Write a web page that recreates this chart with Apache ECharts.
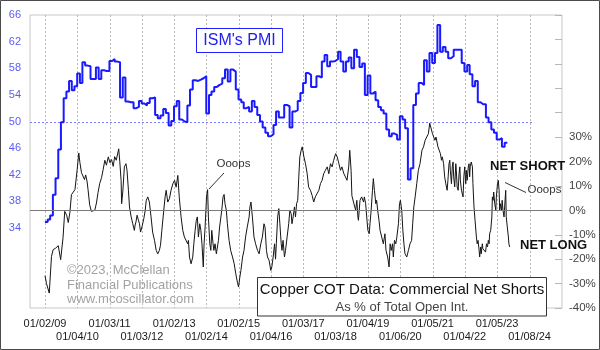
<!DOCTYPE html>
<html>
<head>
<meta charset="utf-8">
<script src="https://cdn.jsdelivr.net/npm/echarts@6/dist/echarts.min.js"></script>
<style>
html, body { margin: 0; padding: 0; background: #fff; }
#chart { width: 600px; height: 350px; }
</style>
</head>
<body>
<div id="chart"></div>
<script>
// ISM manufacturing PMI, one value per month starting January 2009
const pmiStartYear = 2009;
const pmiValues = [
  34.9, 35.3, 35.9, 39.0, 41.5, 45.8, 49.9, 53.5, 54.5, 56.1, 54.7, 55.3,
  57.2, 55.8, 58.9, 58.4, 58.3, 56.4, 56.4, 58.1, 56.4, 57.7, 57.6, 57.6,
  59.1, 59.4, 59.0, 58.9, 53.6, 56.6, 53.0, 52.9, 52.9, 52.0, 52.2, 53.1,
  52.7, 52.4, 52.8, 53.5, 53.6, 51.0, 50.5, 50.9, 51.9, 51.3, 49.4, 50.1,
  52.3, 53.1, 50.3, 50.0, 49.9, 52.4, 54.8, 56.2, 56.1, 56.3, 56.5, 56.8,
  51.2, 54.0, 54.5, 55.2, 55.5, 55.7, 56.5, 57.8, 56.0, 57.8, 57.5, 54.8,
  53.3, 52.9, 52.0, 52.2, 51.5, 53.1, 52.2, 51.0, 50.0, 49.1, 48.3, 47.8,
  48.1, 49.5, 51.5, 50.6, 50.6, 52.5, 52.3, 49.1, 51.5, 51.7, 53.1, 54.3,
  55.8, 57.3, 57.0, 55.2, 55.2, 56.8, 56.6, 59.0, 60.0, 58.3, 59.0, 59.1,
  59.4, 60.5, 59.0, 57.5, 59.0, 59.6, 58.0, 60.8, 59.7, 58.2, 58.7, 54.0,
  56.9, 54.2, 54.5, 53.2, 52.2, 51.7, 51.2, 48.8, 47.8, 48.2, 48.0, 47.3,
  50.8, 50.3, 49.0, 41.3, 43.0, 52.5, 54.2, 55.8, 55.5, 59.2, 57.5, 60.3,
  58.8, 60.3, 64.5, 60.5, 61.2, 60.5, 59.5, 59.8, 60.8, 60.8, 60.8, 58.8,
  57.5, 58.5, 57.1, 55.3, 56.1, 52.9, 52.6, 52.6, 50.6, 49.9, 48.8, 48.3,
  47.3, 47.5, 46.2, 46.8, 46.9
];

// Copper COT: commercial net shorts as % of total open interest (turning points)
const cotDates = [
  '2009-01-02','2009-01-19','2009-02-19','2009-03-16','2009-04-04','2009-05-01','2009-06-01','2009-06-19','2009-06-28','2009-07-25',
  '2009-08-13','2009-09-04','2009-09-22','2009-10-10','2009-10-28','2009-12-07',
  '2010-01-01','2010-01-19','2010-02-01','2010-02-19','2010-03-07','2010-03-25','2010-04-07','2010-04-22','2010-05-04','2010-05-22',
  '2010-06-10','2010-07-01','2010-07-19','2010-08-07','2010-08-25','2010-09-13','2010-10-04','2010-10-22','2010-11-10','2010-11-28','2010-12-19',
  '2011-01-07','2011-01-25','2011-02-13','2011-03-01','2011-03-19','2011-04-16','2011-04-28','2011-05-13','2011-05-19','2011-06-01',
  '2011-06-19','2011-07-07','2011-07-19','2011-08-04','2011-08-16','2011-09-04','2011-09-22','2011-10-10','2011-10-19','2011-10-28',
  '2011-11-10','2011-11-25','2011-12-07','2011-12-19',
  '2012-01-04','2012-01-25','2012-02-10','2012-02-22','2012-03-10','2012-03-28','2012-04-16','2012-05-04','2012-05-25','2012-06-13',
  '2012-07-01','2012-07-19','2012-08-01','2012-08-16','2012-09-07','2012-09-22','2012-10-04','2012-10-22','2012-11-10','2012-11-28','2012-12-19',
  '2013-01-07','2013-01-25','2013-02-13','2013-03-01','2013-03-22','2013-04-10','2013-04-28','2013-05-16','2013-06-04','2013-06-13',
  '2013-06-25','2013-07-13','2013-08-01','2013-08-13','2013-08-28','2013-09-10','2013-09-22','2013-10-04','2013-10-19','2013-11-01',
  '2013-11-13','2013-11-28','2013-12-07','2013-12-19',
  '2014-01-04','2014-01-16','2014-01-25','2014-02-10','2014-02-22','2014-03-04','2014-03-19','2014-03-28','2014-04-10','2014-04-25',
  '2014-05-19','2014-06-01','2014-06-25','2014-07-10','2014-07-22','2014-08-01','2014-08-16','2014-08-28','2014-09-16','2014-10-04',
  '2014-10-25','2014-11-13','2014-12-01','2014-12-19',
  '2015-01-01','2015-01-16','2015-01-28','2015-02-16','2015-03-04','2015-03-22','2015-04-10','2015-05-01','2015-05-10','2015-05-22',
  '2015-06-07','2015-06-25','2015-07-13','2015-08-04','2015-08-22','2015-09-10','2015-09-28','2015-10-16','2015-10-28','2015-11-13',
  '2015-11-25','2015-12-13',
  '2016-01-01','2016-01-13','2016-01-28','2016-02-13','2016-02-24','2016-03-04','2016-03-19','2016-04-01','2016-04-13','2016-04-28',
  '2016-05-07','2016-05-19','2016-06-04','2016-06-16','2016-07-04','2016-07-22','2016-08-04','2016-08-19','2016-08-28','2016-09-10',
  '2016-09-25','2016-10-07','2016-10-19','2016-11-01','2016-11-13','2016-11-25','2016-12-10','2016-12-22',
  '2017-01-10','2017-01-28','2017-02-16','2017-03-04','2017-03-25','2017-04-13','2017-05-01','2017-05-19','2017-06-07','2017-06-28',
  '2017-07-16','2017-08-04','2017-08-22','2017-09-10','2017-10-01','2017-10-19','2017-11-07','2017-11-25','2017-12-13',
  '2018-01-04','2018-01-22','2018-02-10','2018-02-28','2018-03-16','2018-04-07','2018-04-25','2018-05-13','2018-06-01','2018-06-13',
  '2018-06-28','2018-07-07','2018-07-28','2018-08-19','2018-09-01','2018-09-13','2018-09-19','2018-10-07','2018-10-25','2018-11-16',
  '2018-11-25','2018-12-10','2018-12-22',
  '2019-01-04','2019-01-19','2019-01-28','2019-02-10','2019-02-25','2019-03-07','2019-03-19','2019-04-04','2019-04-13','2019-04-25',
  '2019-05-10','2019-05-22','2019-06-10','2019-06-28','2019-07-16','2019-07-28','2019-08-16','2019-09-01','2019-09-13','2019-09-25',
  '2019-10-10','2019-10-19','2019-11-01','2019-11-16','2019-11-28','2019-12-16','2019-12-28',
  '2020-01-07','2020-01-22','2020-02-04','2020-02-16','2020-02-28','2020-03-19','2020-04-07','2020-04-25','2020-05-13','2020-05-25',
  '2020-06-07','2020-06-22','2020-07-10','2020-07-28','2020-08-16','2020-09-07','2020-09-25','2020-10-13','2020-11-01','2020-11-19','2020-12-04',
  '2021-01-04','2021-02-01','2021-02-13','2021-03-07','2021-04-04','2021-04-16','2021-04-25','2021-05-10','2021-05-22','2021-06-04',
  '2021-06-19','2021-06-28','2021-07-10','2021-07-19','2021-07-25','2021-08-07','2021-08-16','2021-08-25','2021-09-01','2021-09-13',
  '2021-09-25','2021-10-01','2021-10-10','2021-10-22','2021-11-01','2021-11-10','2021-11-16','2021-11-28','2021-12-16','2021-12-25',
  '2022-01-04','2022-01-16','2022-01-22','2022-02-01','2022-02-13','2022-02-22','2022-03-01','2022-03-07','2022-03-19','2022-04-01',
  '2022-04-07','2022-04-19','2022-05-01','2022-05-16','2022-05-25','2022-06-04','2022-06-16','2022-06-22','2022-07-04','2022-07-10',
  '2022-07-22','2022-07-28','2022-08-10','2022-08-19','2022-08-28','2022-09-07','2022-09-19','2022-09-28','2022-10-07','2022-10-13',
  '2022-10-25','2022-11-07','2022-11-13','2022-11-22','2022-11-28','2022-12-10','2022-12-22','2022-12-28',
  '2023-01-10','2023-01-19','2023-01-28','2023-02-04','2023-02-13','2023-02-25','2023-03-04','2023-03-13','2023-03-25','2023-04-01',
  '2023-04-13','2023-04-19','2023-05-01','2023-05-13','2023-05-19','2023-05-28'
];
const cotValues = [
  -26.8, -30, -33.9, -18.9, -16.1, -15.5, -14.5, -14, -20.2, -11.2,
  -0.4, -2, -5, -1, 6.4, 8.5,
  16.7, 23.5, 19.5, 15.4, 16, 12.6, 14.5, 12, 8.5, 2.3,
  -0.4, -1, 0, 3, 7.3, 11, 13.4, 16.7, 20.5, 18.5, 21.9,
  19.5, 20.8, 18, 22, 20.5, 25.2, 20, 12.3, 2.7, 7.5,
  17.8, 19.1, 16.4, 8.2, 1.4, -2.7, -5.5, -8.2, -6, -4.8,
  -2, -4, -5.5, -8.9,
  -6.8, -3.4, 0, 4.1, 5.5, 3.4, -2.7, -8.9, -12.3, -16.4,
  -17.8, -16.4, -14.3, -8.2, 0, 5.5, 8.2, 3.4, 4.8, 8.2, 10.9,
  12.3, 9.5, 14.3, 5.5, -2.7, -8.2, -10.9, -10.9, -13.7, -12.3,
  -19.1, -21.9, -19.1, -13.7, -8.2, -4.1, -2.7, -10.9, -5.5, -8.2,
  -13.7, -23.2, -13.7, -6.8,
  5.5, 8.5, -2.7, -13.7, -16.4, -8.2, -13.7, -16.4, -13.7, -17.8,
  -12.3, -6.8, 0, 5.5, 6.5, 2.7, 0, -5.5, -12.3, -16.4,
  -19.1, -21.9, -26, -29.4,
  -31.4, -27.3, -24.6, -19.1, -16.4, -10.9, -6.8, -2.7, 1.4, 3.4,
  -2.7, -10.9, -13.7, -16.4, -17.8, -13.7, -10.9, -5.5, -6.8, -16.4,
  -19.1, -20.5,
  -24.6, -23.2, -19.1, -13.7, -20, -13.7, -2.7, 0.7, -5.5, -13.7,
  -16.4, -12.3, -19.1, -16.4, -10.9, -5.5, 0, -1.4, -5.5, -2.7,
  1.4, -2.7, 2.7, 4.1, 13.7, 21.9, 24.6, 26,
  21.9, 19.1, 15, 9.6, 8.2, 6.1, 3.4, 5.5, 6.8, 8.2,
  10.9, 12.3, 15, 16.4, 17.8, 15, 19.1, 17.8, 20.5,
  23.2, 21.9, 19.1, 16.4, 17.8, 15, 13.7, 12.3, 17.8, 24.6,
  16.4, 6, 3, 0, 4.1, -2.7, -4.1, 4.1, 5.5, 3.4,
  5.5, 2.7, -2.7,
  -8.2, -9.6, -5.5, 0, 8.2, 13, 8.2, 2.7, 4.1, 0,
  -4.1, -8.2, -8.9, -13.7, -9.6, -16.4, -19.1, -23.2, -13.7, -16.4,
  -13.7, -19.1, -12.3, -13.7, -10.9, -5.5, 2.7,
  4.1, 0, -8.2, -13.7, -17.8, -19.1, -16.4, -13.7, -12.3, -5.5,
  1.4, 5.5, 10.9, 16.4, 19.1, 24.6, 26, 28.7, 29.4, 31.4, 35.7,
  31.4, 28.7, 30, 26, 23.2, 20.5, 21.9, 19.1, 13.7, 10.9,
  8.2, 12.3, 19.1, 20.5, 16.4, 10.9, 17.8, 19.8, 13.7, 9.6,
  19.1, 16.4, 9.6, 8.2, 15, 17.8, 12.3, 8.2, 5.5, 13.7,
  17.8, 10.9, 16.4, 12.3, 17.8, 19.1, 13.7, 17.8, 19.8, 17.8,
  10.9, 1.4, -4.1, -10.9, -13.7, -12.3, -16.4, -19.1, -15, -17.8,
  -13.7, -15.7, -16.4, -15, -17.1, -13.7, -15, -12.3, -13.7, -9.6,
  -8.2, -2.7, 5.5, 4.1, 7.5, 2.7, 0, 5.5,
  10.9, 12.3, 8.2, 0, 2.7, 0, 4.1, 0, -2.7, 1.4,
  8.2, -2.7, -6.8, -10.9, -13.7, -15
];

// Dated x-axis ticks and the text shown under each
const tickDates = [
  '2009-01-02', '2010-01-04', '2011-01-03', '2012-01-03', '2013-01-02', '2014-01-02',
  '2015-01-02', '2016-01-04', '2017-01-03', '2018-01-03', '2019-01-04', '2020-01-06',
  '2021-01-05', '2022-01-04', '2023-01-05', '2024-01-08'
];
const tickLabels = [
  '01/02/09', '01/04/10', '01/03/11', '01/03/12', '01/02/13', '01/02/14',
  '01/02/15', '01/04/16', '01/03/17', '01/03/18', '01/04/19', '01/06/20',
  '01/05/21', '01/04/22', '01/05/23', '01/08/24'
];

// PMI expansion/contraction reference level and where its dotted guide stops
const pmiReference = 50;
const pmiReferenceEnd = '2024-02-19';

const FONT = '"Liberation Sans", Arial, Helvetica, sans-serif';
const toTime = s => { const p = s.split('-').map(Number); return Date.UTC(p[0], p[1] - 1, p[2]); };

const pmiData = pmiValues.map((v, i) => [Date.UTC(pmiStartYear, i, 1), v]);
const cotData = cotDates.map((d, i) => [toTime(d), cotValues[i]]);
const tickTimes = tickDates.map(toTime);
const xStart = toTime('2008-07-16');
const xEnd = toTime('2025-01-09');

// labels alternate between two rows: even ticks on the upper row, odd on the lower
const upperTicks = tickTimes.filter((t, i) => i % 2 === 0);
const lowerTicks = tickTimes.filter((t, i) => i % 2 === 1);

function tickText(v) {
  let best = 0;
  for (let i = 1; i < tickTimes.length; i++) {
    if (Math.abs(tickTimes[i] - v) < Math.abs(tickTimes[best] - v)) best = i;
  }
  return tickLabels[best];
}

function dateAxis(ticks, margin) {
  return {
    type: 'value',
    gridIndex: 0,
    position: 'bottom',
    min: xStart,
    max: xEnd,
    axisLine: { show: false },
    axisTick: { show: false, customValues: ticks },
    axisLabel: {
      customValues: ticks,
      formatter: tickText,
      hideOverlap: false,
      showMinLabel: true,
      showMaxLabel: true,
      color: '#1a1a1a',
      fontSize: 11,
      margin: margin,
      fontFamily: FONT
    },
    splitLine: { show: false }
  };
}

const chart = echarts.init(document.getElementById('chart'), null, { renderer: 'canvas' });

chart.setOption({
  animation: false,
  backgroundColor: '#fff',
  textStyle: { fontFamily: FONT },
  grid: {
    left: 30, right: 38, top: 15, bottom: 42,
    show: true, borderColor: '#c8c8c8', borderWidth: 1,
    containLabel: false, outerBoundsMode: 'none'
  },
  xAxis: [dateAxis(upperTicks, 10), dateAxis(lowerTicks, 23)],
  yAxis: [
    {
      type: 'value',
      position: 'left',
      min: 22, max: 66, interval: 2,
      axisLine: { show: false },
      axisTick: { show: false },
      splitLine: { show: false },
      axisLabel: {
        formatter: v => (v >= 34 && (v - 34) % 4 === 0) ? String(v) : '',
        showMinLabel: true, showMaxLabel: true, hideOverlap: false,
        color: '#5c5cf0', fontSize: 11, margin: 9, fontFamily: FONT
      }
    },
    {
      type: 'value',
      position: 'right',
      min: -40, max: 80, interval: 10,
      axisLine: { show: false },
      axisTick: { show: true, inside: true, length: 7, lineStyle: { color: '#b8b8b8', width: 1 } },
      splitLine: { show: false },
      axisLabel: {
        formatter: v => v <= 30 ? v + '%' : '',
        showMinLabel: true, showMaxLabel: true,
        color: '#444', fontSize: 11.5, margin: 7, fontFamily: FONT
      }
    }
  ],
  series: [
    {
      // dotted vertical grid at each dated tick
      name: 'year grid',
      type: 'custom',
      silent: true,
      z: 0,
      xAxisIndex: 0,
      yAxisIndex: 0,
      data: tickTimes.map(t => [t, pmiReference]),
      encode: { x: 0, y: 1 },
      renderItem: (params, api) => {
        const cs = params.coordSys;
        const x = Math.round(api.coord([api.value(0), api.value(1)])[0]) + 0.5;
        return {
          type: 'line',
          shape: { x1: x, y1: cs.y, x2: x, y2: cs.y + cs.height },
          style: { stroke: '#b8b8b8', lineWidth: 1, lineDash: [2, 2] }
        };
      }
    },
    {
      // dotted PMI = 50 guide
      name: 'PMI 50',
      type: 'custom',
      silent: true,
      z: 1,
      xAxisIndex: 0,
      yAxisIndex: 0,
      data: [[xStart, pmiReference, toTime(pmiReferenceEnd)]],
      encode: { x: 0, y: 1 },
      renderItem: (params, api) => {
        const a = api.coord([api.value(0), api.value(1)]);
        const b = api.coord([api.value(2), api.value(1)]);
        const y = Math.round(a[1]) + 0.5;
        return {
          type: 'line',
          shape: { x1: a[0], y1: y, x2: b[0], y2: y },
          style: { stroke: '#7c7cff', lineWidth: 1, lineDash: [2, 2] }
        };
      }
    },
    {
      name: 'Copper COT',
      type: 'line',
      xAxisIndex: 0,
      yAxisIndex: 1,
      data: cotData,
      showSymbol: false,
      symbol: 'none',
      lineStyle: { color: '#151515', width: 1 },
      z: 2,
      markLine: {
        silent: true,
        symbol: ['none', 'none'],
        label: { show: false },
        lineStyle: { color: '#7a7a7a', type: 'solid', width: 1 },
        data: [{ yAxis: 0 }]
      }
    },
    {
      name: "ISM's PMI",
      type: 'line',
      xAxisIndex: 0,
      yAxisIndex: 0,
      step: 'end',
      data: pmiData,
      showSymbol: false,
      symbol: 'none',
      lineStyle: { color: '#1a1aff', width: 2 },
      z: 3
    }
  ],
  graphic: [
    { type: 'rect', silent: true, z: 100, shape: { x: 0.5, y: 0.5, width: 599, height: 349 },
      style: { fill: 'none', stroke: '#4a4a4a', lineWidth: 1 } },

    { type: 'rect', silent: true, z: 100, shape: { x: 196.5, y: 28.5, width: 86, height: 24 },
      style: { fill: '#fff', stroke: '#2020ff', lineWidth: 1 } },
    { type: 'text', silent: true, z: 101, x: 239.5, y: 41,
      style: { text: "ISM's PMI", font: '16px ' + FONT, fill: '#2020ee', textAlign: 'center', textVerticalAlign: 'middle', align: 'center', verticalAlign: 'middle' } },

    { type: 'text', silent: true, z: 101, x: 216.5, y: 164,
      style: { text: 'Ooops', font: '11.5px ' + FONT, fill: '#333', textAlign: 'left', textVerticalAlign: 'middle', align: 'left', verticalAlign: 'middle' } },
    { type: 'line', silent: true, z: 101, shape: { x1: 224, y1: 173, x2: 209, y2: 189 },
      style: { stroke: '#333', lineWidth: 1 } },

    { type: 'text', silent: true, z: 101, x: 527.5, y: 190,
      style: { text: 'Ooops', font: '11.5px ' + FONT, fill: '#333', textAlign: 'left', textVerticalAlign: 'middle', align: 'left', verticalAlign: 'middle' } },
    { type: 'line', silent: true, z: 101, shape: { x1: 505, y1: 182.5, x2: 526, y2: 192.5 },
      style: { stroke: '#333', lineWidth: 1 } },

    { type: 'text', silent: true, z: 101, x: 490, y: 166,
      style: { text: 'NET SHORT', font: 'bold 13px ' + FONT, fill: '#111', textAlign: 'left', textVerticalAlign: 'middle', align: 'left', verticalAlign: 'middle' } },
    { type: 'text', silent: true, z: 101, x: 520, y: 245,
      style: { text: 'NET LONG', font: 'bold 13px ' + FONT, fill: '#111', textAlign: 'left', textVerticalAlign: 'middle', align: 'left', verticalAlign: 'middle' } },

    { type: 'text', silent: true, z: 101, x: 67, y: 270,
      style: { text: '©2023, McClellan', font: '13px ' + FONT, fill: '#a3a3a3', textAlign: 'left', textVerticalAlign: 'middle', align: 'left', verticalAlign: 'middle' } },
    { type: 'text', silent: true, z: 101, x: 67, y: 285,
      style: { text: 'Financial Publications', font: '13px ' + FONT, fill: '#a3a3a3', textAlign: 'left', textVerticalAlign: 'middle', align: 'left', verticalAlign: 'middle' } },
    { type: 'text', silent: true, z: 101, x: 67, y: 299.5,
      style: { text: 'www.mcoscillator.com', font: '13px ' + FONT, fill: '#a3a3a3', textAlign: 'left', textVerticalAlign: 'middle', align: 'left', verticalAlign: 'middle' } },

    { type: 'rect', silent: true, z: 100, shape: { x: 257.5, y: 277.5, width: 289, height: 38.5 },
      style: { fill: '#fff', stroke: '#333', lineWidth: 1 } },
    { type: 'text', silent: true, z: 101, x: 402, y: 289.5,
      style: { text: 'Copper COT Data: Commercial Net Shorts', font: '15px ' + FONT, fill: '#111', textAlign: 'center', textVerticalAlign: 'middle', align: 'center', verticalAlign: 'middle' } },
    { type: 'text', silent: true, z: 101, x: 402, y: 307.5,
      style: { text: 'As % of Total Open Int.', font: '13px ' + FONT, fill: '#444', textAlign: 'center', textVerticalAlign: 'middle', align: 'center', verticalAlign: 'middle' } }
  ]
});
</script>
</body>
</html>
